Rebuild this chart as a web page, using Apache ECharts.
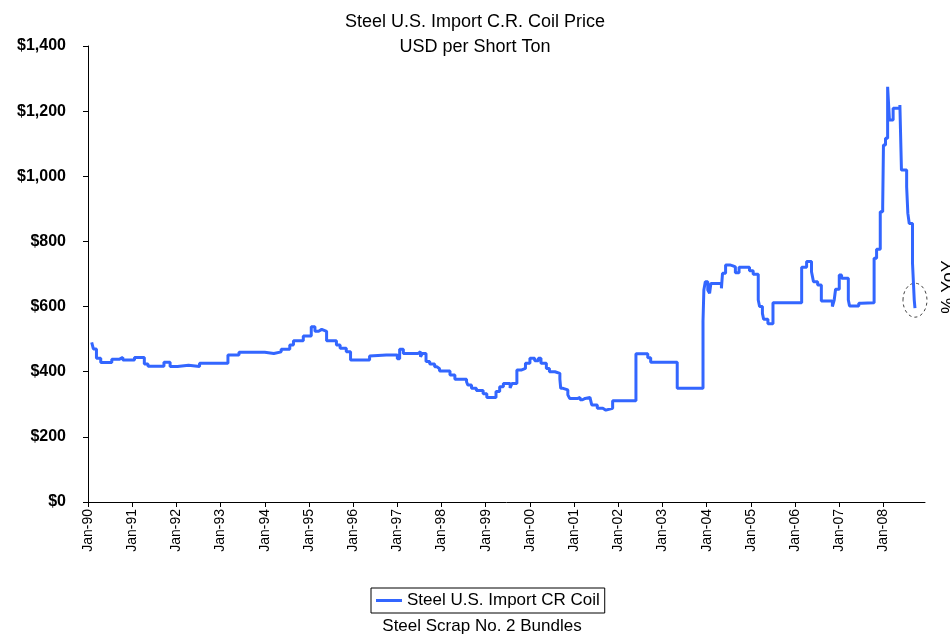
<!DOCTYPE html>
<html>
<head>
<meta charset="utf-8">
<script src="https://cdn.jsdelivr.net/npm/echarts@6/dist/echarts.min.js"></script>
<style>
html,body{margin:0;padding:0;background:#fff;}
#chart{width:950px;height:639px;}
</style>
</head>
<body>
<div id="chart"></div>
<script>
// Dates at which the price changed, and the new price (USD per short ton)
const dates = [
 '1990-02-01','1990-02-15','1990-03-10','1990-04-15','1990-07-15','1990-09-15','1990-10-15',
 '1991-01-20','1991-04-10','1991-05-10','1991-09-20','1991-11-10',
 '1992-01-10','1992-04-10','1992-07-10',
 '1993-03-01','1993-06-01',
 '1994-01-01','1994-03-15','1994-05-15','1994-07-25','1994-08-25','1994-11-15',
 '1995-01-20','1995-02-20','1995-03-20','1995-04-15','1995-05-25','1995-08-15','1995-09-15','1995-11-05','1995-12-10',
 '1996-05-15','1996-06-01','1996-10-01','1996-10-15',
 '1997-01-01','1997-01-20','1997-02-20','1997-06-20','1997-07-10','1997-07-25','1997-08-25','1997-09-25','1997-11-05','1997-11-25','1997-12-15',
 '1998-03-10','1998-04-20','1998-07-25','1998-08-05','1998-09-05','1998-10-15','1998-12-10',
 '1999-01-10','1999-03-25','1999-04-25','1999-05-25','1999-07-20','1999-08-05','1999-09-15','1999-10-20','1999-11-25',
 '2000-01-01','2000-02-10','2000-03-10','2000-04-01','2000-05-15','2000-06-10','2000-07-25','2000-09-05','2000-09-12','2000-10-01','2000-11-10','2000-11-25',
 '2001-02-01','2001-02-20','2001-03-10','2001-04-01','2001-05-10','2001-05-25','2001-07-10','2001-08-25','2001-09-20','2001-11-15',
 '2002-05-25','2002-09-01','2002-09-25',
 '2003-05-01','2003-12-01','2003-12-08','2003-12-20',
 '2004-01-10','2004-01-25','2004-02-05','2004-05-01','2004-05-10','2004-06-05','2004-07-10','2004-08-05','2004-08-25','2004-09-25','2004-12-20',
 '2005-01-20','2005-03-01','2005-03-12','2005-04-05','2005-04-15','2005-05-20','2005-07-01',
 '2006-02-25','2006-04-05','2006-05-15','2006-06-01','2006-07-05','2006-08-05','2006-11-05','2006-11-20','2006-12-01',
 '2007-01-01','2007-01-20','2007-03-15','2007-03-25','2007-06-10','2007-07-01','2007-10-15','2007-11-05','2007-12-05','2007-12-25',
 '2008-01-01','2008-01-18','2008-02-05','2008-02-20','2008-03-20','2008-05-15','2008-05-28','2008-07-10','2008-07-20','2008-08-01','2008-08-28','2008-09-12','2008-09-18'
];
const coilPrice = [
 490,470,441,428,438,444,436,
 444,424,417,429,416,
 420,416,426,
 451,460,
 456,461,469,482,495,510,
 538,524,530,524,495,482,472,461,436,
 448,451,446,451,
 440,469,456,461,446,456,431,424,415,409,402,
 390,377,369,359,349,342,332,
 321,339,354,364,350,364,405,410,426,
 441,434,441,426,410,400,395,377,349,344,329,318,
 321,314,318,321,315,298,288,282,288,311,
 455,443,429,
 349,554,651,676,
 651,641,671,656,702,728,725,722,704,721,710,
 699,620,600,579,561,547,612,
 721,738,707,676,666,617,600,620,653,
 697,687,620,602,610,612,748,776,891,907,
 1096,1117,1275,1173,1209,1219,1019,968,886,855,733,620,595
];
const yearTicks = [1990,1991,1992,1993,1994,1995,1996,1997,1998,1999,2000,2001,2002,2003,2004,2005,2006,2007,2008];
const seriesName = 'Steel U.S. Import CR Coil';
const extraLegendText = 'Steel Scrap No. 2 Bundles';
const titleLines = ['Steel U.S. Import C.R. Coil Price', 'USD per Short Ton'];
const sideText = '% YoY';

function toYear(s) {
  const p = s.split('-').map(Number);
  return p[0] + (p[1] - 1) / 12 + (p[2] - 1) / 365;
}
const seriesData = dates.map((d, i) => [toYear(d), coilPrice[i]]);

const FONT = 'Liberation Sans, Arial, sans-serif';
const chart = echarts.init(document.getElementById('chart'), null, {renderer: 'canvas'});
chart.setOption({
  backgroundColor: '#ffffff',
  animation: false,
  title: {
    text: titleLines.join('\n'),
    left: 'center',
    top: 5,
    textStyle: {fontFamily: FONT, fontSize: 18, fontWeight: 'normal', color: '#000', lineHeight: 25}
  },
  legend: {
    data: [seriesName],
    left: 371,
    top: 588,
    padding: [4, 5, 4, 5],
    borderColor: '#000',
    borderWidth: 1,
    icon: 'rect',
    itemWidth: 26,
    itemHeight: 3,
    itemGap: 5,
    textStyle: {fontFamily: FONT, fontSize: 17, color: '#000'}
  },
  grid: {left: 88, right: 25, top: 46, bottom: 137, containLabel: false},
  xAxis: {
    type: 'value',
    min: 1990,
    max: 2008.94,
    interval: 1,
    axisLine: {lineStyle: {color: '#000', width: 1}},
    axisTick: {show: true, length: 5, lineStyle: {color: '#000'}, customValues: yearTicks},
    axisLabel: {
      customValues: yearTicks,
      rotate: 90,
      margin: 7,
      fontFamily: FONT,
      fontSize: 14,
      color: '#000',
      formatter: v => 'Jan-' + String(Math.round(v) % 100).padStart(2, '0')
    },
    splitLine: {show: false}
  },
  yAxis: {
    type: 'value',
    min: 0,
    max: 1400,
    interval: 200,
    axisLine: {show: true, lineStyle: {color: '#000', width: 1}},
    axisTick: {show: true, length: 5, lineStyle: {color: '#000'}},
    axisLabel: {
      margin: 22,
      fontFamily: FONT,
      fontSize: 16,
      fontWeight: 'bold',
      color: '#000',
      formatter: v => '$' + v.toLocaleString('en-US')
    },
    splitLine: {show: false}
  },
  series: [{
    name: seriesName,
    type: 'line',
    step: 'end',
    showSymbol: false,
    symbol: 'none',
    data: seriesData,
    itemStyle: {color: '#3366FF'},
    lineStyle: {color: '#3366FF', width: 3}
  }]
});

const last = seriesData[seriesData.length - 1];
const pt = chart.convertToPixel({gridIndex: 0}, last);
chart.setOption({
  graphic: [
    {
      type: 'ellipse',
      shape: {cx: pt[0], cy: pt[1] - 8, rx: 12, ry: 17},
      style: {fill: 'none', stroke: '#444', lineWidth: 1, lineDash: [3, 3]}
    },
    {
      type: 'text',
      x: 949, y: 287,
      rotation: Math.PI / 2,
      style: {text: sideText, font: '18px ' + FONT, fill: '#000', textAlign: 'center', textVerticalAlign: 'middle'}
    },
    {
      type: 'text',
      x: 482, y: 626,
      style: {text: extraLegendText, font: '17px ' + FONT, fill: '#000', textAlign: 'center', textVerticalAlign: 'middle'}
    }
  ]
});
</script>
</body>
</html>
